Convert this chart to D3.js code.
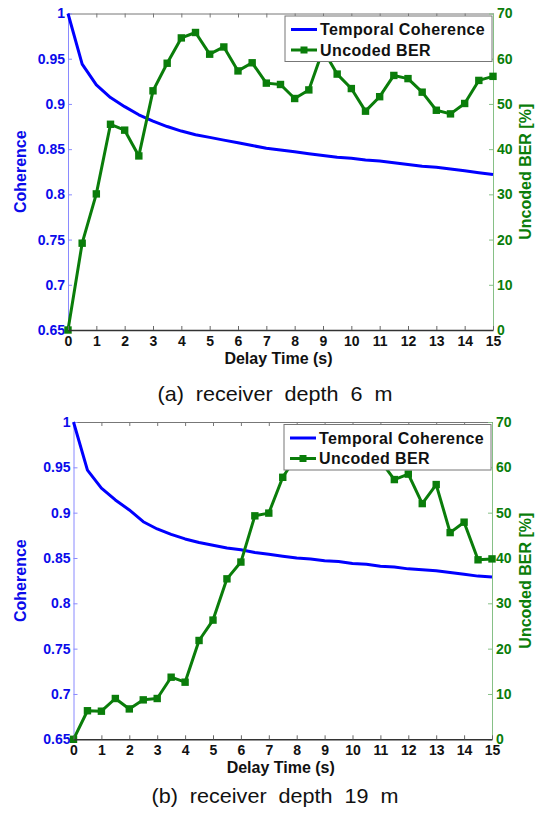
<!DOCTYPE html>
<html>
<head>
<meta charset="utf-8">
<script src="https://cdn.jsdelivr.net/npm/d3@7"></script>
<style>
  body { margin: 0; background: #fff; }
  svg { display: block; }
</style>
</head>
<body>
<svg id="chart" width="537" height="814"></svg>
<script>
// delay axis, same grid for both panels
const delayTime = [0, 0.5, 1, 1.5, 2, 2.5, 3, 3.5, 4, 4.5, 5, 5.5, 6, 6.5, 7, 7.5,
    8, 8.5, 9, 9.5, 10, 10.5, 11, 11.5, 12, 12.5, 13, 13.5, 14, 14.5, 15];

// (a) receiver depth 6 m
const coherence6m = [1.0, 0.944, 0.921, 0.907, 0.897, 0.888, 0.881, 0.875, 0.870, 0.866,
    0.863, 0.860, 0.857, 0.854, 0.851, 0.849, 0.847, 0.845, 0.843, 0.841, 0.840,
    0.838, 0.837, 0.835, 0.833, 0.831, 0.830, 0.828, 0.826, 0.824, 0.822];
const ber6m = [0, 19.2, 30.1, 45.5, 44.2, 38.5, 52.9, 59.0, 64.6, 65.8, 61.0, 62.6,
    57.3, 59.1, 54.6, 54.3, 51.2, 53.1, 62.0, 56.6, 53.4, 48.4, 51.6, 56.3, 55.6,
    52.6, 48.6, 47.8, 50.1, 55.2, 56.1];

// (b) receiver depth 19 m
const coherence19m = [1.0, 0.947, 0.927, 0.914, 0.903, 0.890, 0.882, 0.876, 0.871, 0.867,
    0.864, 0.861, 0.859, 0.856, 0.854, 0.852, 0.850, 0.849, 0.847, 0.846, 0.844,
    0.843, 0.841, 0.840, 0.838, 0.837, 0.836, 0.834, 0.832, 0.830, 0.829];
const ber19m = [0, 6.3, 6.2, 9.0, 6.7, 8.7, 9.0, 13.7, 12.6, 21.8, 26.3, 35.4, 39.1,
    49.3, 49.9, 57.8, 62.5, 64.0, 65.0, 64.5, 63.0, 63.5, 61.5, 57.3, 58.5, 52.0,
    56.2, 45.6, 47.9, 39.6, 39.8];

const xTicks = [0, 1, 2, 3, 4, 5, 6, 7, 8, 9, 10, 11, 12, 13, 14, 15];
const cohTicks = [0.65, 0.7, 0.75, 0.8, 0.85, 0.9, 0.95, 1];
const berTicks = [0, 10, 20, 30, 40, 50, 60, 70];
const seriesNames = ["Temporal Coherence", "Uncoded BER"];
const captions = ["(a)  receiver  depth  6  m", "(b)  receiver  depth  19  m"];

const blue = "#0000ff", blueText = "#0b0bea", green = "#0a7d0a";
const font = "'Liberation Sans', Arial, sans-serif";

var svg = d3.select("#chart");

var panels = [
    { coh: coherence6m, ber: ber6m, caption: captions[0], capY: 401, capW: 235,
      left: 68, right: 493, top: 13.5, bottom: 330 },
    { coh: coherence19m, ber: ber19m, caption: captions[1], capY: 803, capW: 247,
      left: 73.5, right: 492, top: 422, bottom: 739.3 }
];

panels.forEach(function(p) {
    var x = d3.scaleLinear().domain([0, 15]).range([p.left, p.right]);
    var yC = d3.scaleLinear().domain([0.65, 1]).range([p.bottom, p.top]);
    var yB = d3.scaleLinear().domain([0, 70]).range([p.bottom, p.top]);

    var g = svg.append("g");

    // top frame with ticks
    var top = g.append("g").attr("transform", "translate(0," + p.top + ")")
        .call(d3.axisTop(x).tickValues(xTicks).tickSizeInner(-4).tickSizeOuter(0).tickFormat(""));
    top.selectAll("path,line").attr("stroke", "#777").attr("stroke-width", 1);

    // left coherence axis
    var la = g.append("g").attr("transform", "translate(" + p.left + ",0)")
        .call(d3.axisLeft(yC).tickValues(cohTicks).tickSizeInner(-4).tickSizeOuter(0)
            .tickPadding(3).tickFormat(d3.format("")));
    la.selectAll("path,line").attr("stroke", "#8a8aff").attr("stroke-width", 1);
    la.selectAll("text").attr("fill", blueText).style("font", "bold 14px " + font);

    // right BER axis
    var ra = g.append("g").attr("transform", "translate(" + p.right + ",0)")
        .call(d3.axisRight(yB).tickValues(berTicks).tickSizeInner(-4).tickSizeOuter(0).tickPadding(4));
    ra.selectAll("path,line").attr("stroke", "#86c086").attr("stroke-width", 1);
    ra.selectAll("text").attr("fill", green).style("font", "bold 14px " + font);

    // coherence curve
    var line = d3.line().x(function(d, i) { return x(delayTime[i]); });
    g.append("path").datum(p.coh)
        .attr("fill", "none").attr("stroke", blue).attr("stroke-width", 3)
        .attr("stroke-linejoin", "round")
        .attr("d", line.y(function(d) { return yC(d); }));

    // BER curve with square markers
    g.append("path").datum(p.ber)
        .attr("fill", "none").attr("stroke", green).attr("stroke-width", 3)
        .attr("stroke-linejoin", "round")
        .attr("d", d3.line()
            .x(function(d, i) { return x(delayTime[i]); })
            .y(function(d) { return yB(d); }));
    g.selectAll("rect.mk").data(p.ber).enter().append("rect")
        .attr("class", "mk")
        .attr("x", function(d, i) { return x(delayTime[i]) - 3.7; })
        .attr("y", function(d) { return yB(d) - 3.7; })
        .attr("width", 7.4).attr("height", 7.4)
        .attr("fill", green);

    // bottom axis drawn last so its labels sit on top
    var ba = g.append("g").attr("transform", "translate(0," + p.bottom + ")")
        .call(d3.axisBottom(x).tickValues(xTicks).tickSizeInner(-4).tickSizeOuter(0).tickPadding(6));
    ba.select("path").attr("stroke", "#333").attr("stroke-width", 1.6);
    ba.selectAll("line").attr("stroke", "#666");
    ba.selectAll("text").attr("fill", "#111").style("font", "bold 14px " + font);

    // axis titles
    g.append("text")
        .attr("transform", "translate(26," + (p.top + p.bottom) / 2 + ") rotate(-90)")
        .attr("text-anchor", "middle")
        .attr("fill", blueText).style("font", "bold 16px " + font)
        .text("Coherence");
    g.append("text")
        .attr("transform", "translate(531," + (p.top + p.bottom) / 2 + ") rotate(-90)")
        .attr("text-anchor", "middle")
        .attr("fill", green).style("font", "bold 16px " + font)
        .text("Uncoded BER [%]");
    g.append("text")
        .attr("x", (p.left + p.right) / 2 - 2).attr("y", p.bottom + 34)
        .attr("text-anchor", "middle")
        .attr("fill", "#111").style("font", "bold 16px " + font)
        .text("Delay Time (s)");

    // legend
    var lx = p.right - 208, ly = p.top + 2.5;
    var lg = g.append("g").attr("transform", "translate(" + lx + "," + ly + ")");
    lg.append("rect").attr("width", 207).attr("height", 45.5)
        .attr("fill", "#fff").attr("stroke", "#777").attr("stroke-width", 1);
    lg.append("line").attr("x1", 6).attr("x2", 32).attr("y1", 13.5).attr("y2", 13.5)
        .attr("stroke", blue).attr("stroke-width", 3);
    lg.append("line").attr("x1", 6).attr("x2", 32).attr("y1", 34).attr("y2", 34)
        .attr("stroke", green).attr("stroke-width", 3);
    lg.append("rect").attr("x", 15.5).attr("y", 30.5).attr("width", 7).attr("height", 7)
        .attr("fill", green);
    lg.selectAll("text.lab").data(seriesNames).enter().append("text")
        .attr("class", "lab")
        .attr("x", 35).attr("y", function(d, i) { return 19 + i * 20.5; })
        .attr("fill", "#111").style("font", "bold 16px " + font)
        .style("letter-spacing", "0.4px")
        .text(function(d) { return d; });

    // caption
    g.append("text")
        .attr("x", 275).attr("y", p.capY)
        .attr("text-anchor", "middle")
        .attr("textLength", p.capW).attr("lengthAdjust", "spacingAndGlyphs")
        .attr("fill", "#111")
        .style("font", "21px 'Liberation Sans', Arial, sans-serif")
        .style("white-space", "pre")
        .text(p.caption);
});
</script>
</body>
</html>
